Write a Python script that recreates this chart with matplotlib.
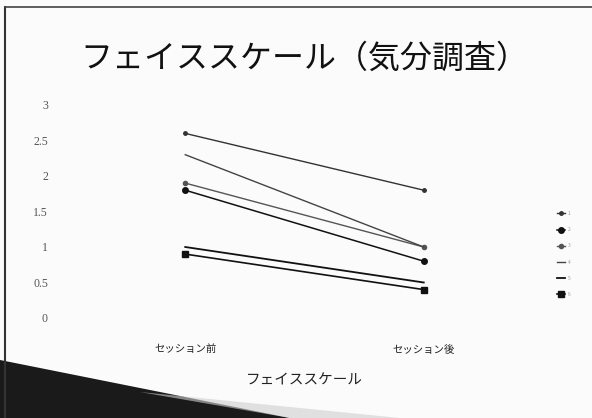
import matplotlib
matplotlib.use("Agg")
import matplotlib.pyplot as plt
from matplotlib.patches import Polygon
from matplotlib.lines import Line2D

plt.rcParams['font.family'] = ['Noto Sans CJK JP', 'DejaVu Sans']

categories = ["セッション前", "セッション後"]
series_names = ["1", "2", "3", "4", "5", "6"]
s1 = [2.6, 1.8]
s2 = [1.8, 0.8]
s3 = [1.9, 1.0]
s4 = [2.3, 1.0]
s5 = [1.0, 0.5]
s6 = [0.9, 0.4]
series = [s1, s2, s3, s4, s5, s6]
yticks = [0, 0.5, 1, 1.5, 2, 2.5, 3]
ytick_labels = ["0", "0.5", "1", "1.5", "2", "2.5", "3"]

styles = [
    dict(marker='o', ms=2.5, lw=1.0, color='#333333'),
    dict(marker='o', ms=4.0, lw=1.1, color='#111111'),
    dict(marker='o', ms=3.0, lw=1.0, color='#555555'),
    dict(marker=None, lw=1.0, color='#444444'),
    dict(marker=None, lw=1.3, color='#111111'),
    dict(marker='s', ms=3.8, lw=1.2, color='#111111'),
]

W, H = 592, 418
fig = plt.figure(figsize=(W / 100, H / 100), dpi=100)
fig.patch.set_facecolor('#fbfbfb')

# axes: x from 66 to 543 px, y: 0 at 318 px, 3 at 105 px
left, right = 66, 543
bottom, top = 318, 105
ax = fig.add_axes([left / W, 1 - bottom / H, (right - left) / W, (bottom - top) / H])
ax.set_facecolor('none')
x = list(range(len(categories)))
for vals, st, name in zip(series, styles, series_names):
    ax.plot(x, vals, label=name, **st)

ax.set_xlim(-0.5, 1.5)
ax.set_ylim(0, 3)
ax.set_yticks(yticks)
ax.set_yticklabels(ytick_labels, fontfamily='Liberation Serif', fontsize=8.5, color='#555555')
ax.set_xticks(x)
ax.set_xticklabels(categories, fontsize=7.5, color='#222222')
ax.tick_params(axis='y', length=0, pad=13)
ax.tick_params(axis='x', length=0, pad=19)
for sp in ax.spines.values():
    sp.set_visible(False)

ax.set_xlabel("フェイススケール", fontsize=10.5, color='#222222', labelpad=14)

fig.text(304 / W, 1 - 59 / H, "フェイススケール（気分調査）", ha='center', va='center',
         fontsize=23, color='#111111')

# legend
handles = [Line2D([0], [0], **st) for st in styles]
leg = fig.legend(handles, series_names, loc='center left',
                 bbox_to_anchor=(555 / W, 1 - 254 / H), frameon=False,
                 fontsize=3.5, handlelength=1.6, labelspacing=2.3,
                 handletextpad=0.5, borderpad=0)
for t in leg.get_texts():
    t.set_color('#999999')

# slide frame (photo)
fig.add_artist(Line2D([5 / W, 5 / W], [0, 1 - 7 / H], transform=fig.transFigure,
                      color='#333333', lw=1.5))
fig.add_artist(Line2D([5 / W, 1], [1 - 7 / H, 1 - 7 / H], transform=fig.transFigure,
                      color='#444444', lw=1.2))

# dark wedge at bottom-left from photo
wedge = Polygon([(0, 0), (0, 1 - 360 / H), (290 / W, 0)], closed=True,
                transform=fig.transFigure, facecolor='#1a1a1a', edgecolor='none')
fig.add_artist(wedge)
wedge2 = Polygon([(290 / W, 0), (140 / W, 1 - 392 / H), (400 / W, 0)], closed=True,
                 transform=fig.transFigure, facecolor='#cfcfcf', edgecolor='none', alpha=0.6)
fig.add_artist(wedge2)

fig.savefig("out.png", dpi=100, facecolor=fig.get_facecolor())
